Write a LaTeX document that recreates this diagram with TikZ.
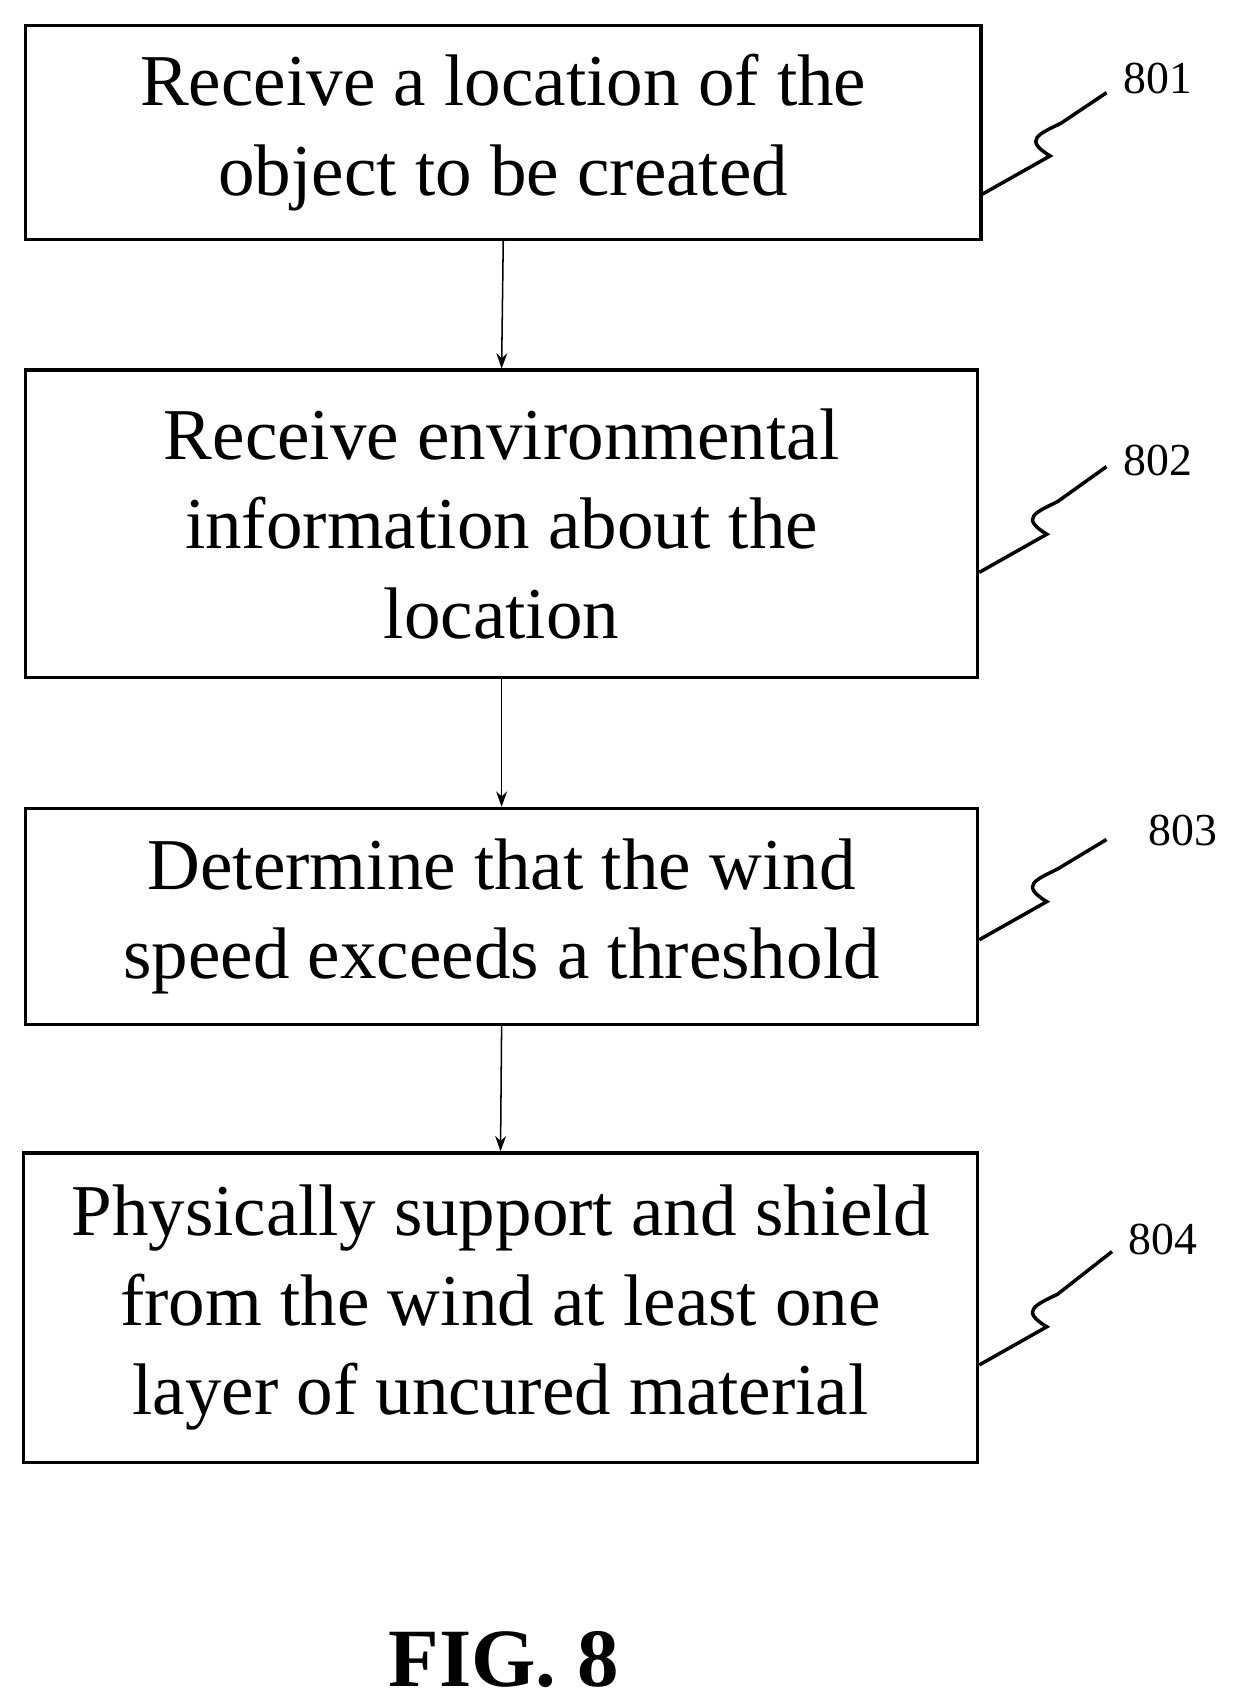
\documentclass[tikz,border=0pt]{standalone}
\usepackage{fontspec}
\setmainfont{Liberation Serif}
\usetikzlibrary{arrows.meta}
\begin{document}
\begin{tikzpicture}[x=0.5pt,y=-0.5pt,
  box/.style={draw,line width=1.6pt,anchor=north west,inner sep=0pt,align=center,font=\fontsize{33.5}{41}\selectfont},
  arr/.style={-{Stealth[length=7pt,width=5pt]},line width=0.7pt},
  lab/.style={font=\fontsize{21}{24}\selectfont},
  sq/.style={line width=1.6pt}]
\useasboundingbox (0,0) rectangle (1138,1563);
\node[box,minimum width=876*0.5pt,minimum height=196*0.5pt] (b1) at (22,22) {Receive a location of the\\object to be created};
\node[box,minimum width=873*0.5pt,minimum height=282*0.5pt] (b2) at (22,338) {Receive environmental\\information about the\\location};
\node[box,minimum width=873*0.5pt,minimum height=198*0.5pt] (b3) at (22,740) {Determine that the wind\\speed exceeds a threshold};
\node[box,minimum width=875*0.5pt,minimum height=284*0.5pt] (b4) at (20,1056) {Physically support and shield\\from the wind at least one\\layer of uncured material};
\draw[arr] (b1.south) -- (b2.north);
\draw[arr] (b2.south) -- (b3.north);
\draw[arr] (b3.south) -- (b4.north);
\node[lab] (l1) at (1062,72) {801};
\node[lab] (l2) at (1062,422) {802};
\node[lab] (l3) at (1085,762) {803};
\node[lab] (l4) at (1067,1137) {804};
\foreach \b/\y/\ex/\ey in {b1/178/1015/85, b2/525/1015/428, b3/862/1015/770, b4/1252/1020/1148}{
  \coordinate (s) at (\b.east |- 0,\y);
  \draw[sq] (s) -- ++(62,-35) .. controls +(-25,-15) and +(-20,10) .. ++(10,-30) -- (\ex,\ey);
}
\node[font=\bfseries\fontsize{38}{40}\selectfont] (fig) at (462,1522) {FIG. 8};
\end{tikzpicture}
\end{document}
